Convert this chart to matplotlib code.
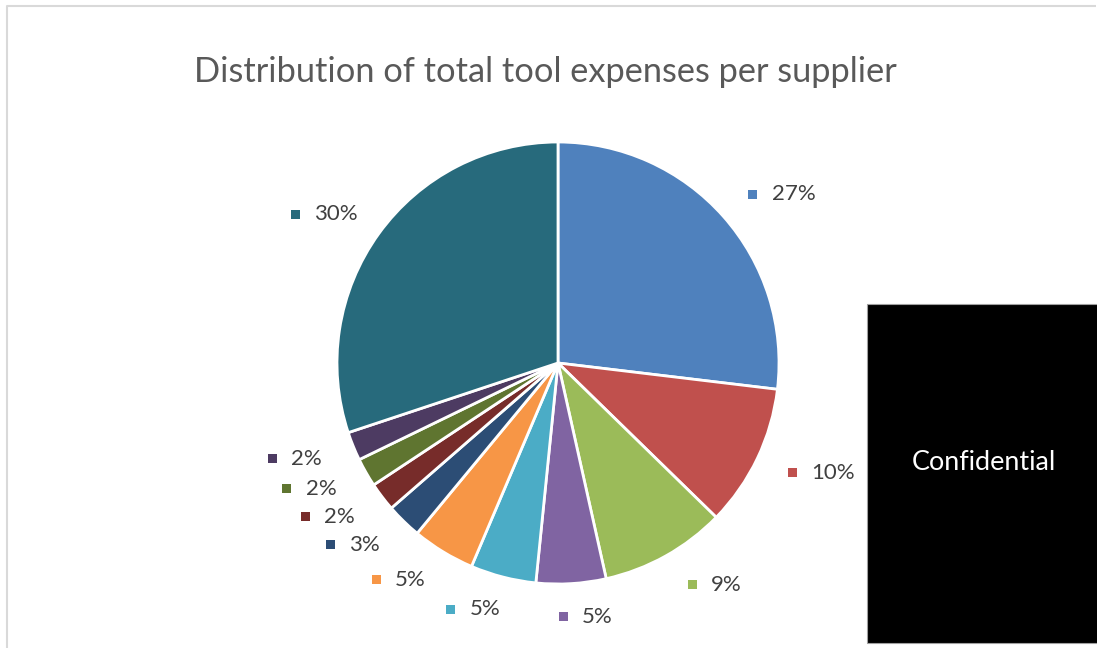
import numpy as np
import matplotlib
matplotlib.use("Agg")
import matplotlib.pyplot as plt
from matplotlib.patches import Rectangle

# ---- data ----
title = "Distribution of total tool expenses per supplier"
shares = [26.9, 10.4, 9.2, 5.1, 4.8, 4.6, 2.6, 2.1, 2.1, 2.1, 30.1]
colors = ["#4F81BD", "#C0504D", "#9BBB59", "#8064A2", "#4BACC6", "#F79646",
          "#2C4D75", "#772C2A", "#5F7530", "#4D3B62", "#276A7C"]
box_text = "Confidential"

# ---- layout ----
W, H = 1097, 648
fig = plt.figure(figsize=(W / 100, H / 100), dpi=100)
ax = fig.add_axes([0, 0, 1, 1])
FONT = "Lato"

cx, cy, R = 558, H - 363, 221
wedges, _ = ax.pie(shares, colors=colors, startangle=90, counterclock=False,
                   center=(cx, cy), radius=R, frame=True,
                   wedgeprops=dict(edgecolor="white", linewidth=2))
ax.set_xlim(0, W)
ax.set_ylim(0, H)
ax.set_aspect("equal")
ax.axis("off")

renderer = fig.canvas.get_renderer()


def fit(t, target):
    w = t.get_window_extent(renderer).width
    t.set_fontsize(t.get_fontsize() * target / w)


# chart border
ax.plot([7, 7, 1096], [0, H - 6, H - 6], color="#D9D9D9", lw=1.5, solid_capstyle="butt")

# title
tt = ax.text(545, H - 82, title, ha="center", va="baseline", color="#595959",
             fontsize=20, family=FONT)
fit(tt, 704)

# labels
d, Hx = 254, 28
ref = ax.text(0, 0, "30%", fontsize=14, family=FONT)
fit(ref, 44)
lab_fs = ref.get_fontsize()
ref.remove()
for w, v, c in zip(wedges, shares, colors):
    a = np.deg2rad((w.theta1 + w.theta2) / 2)
    ca, sa = np.cos(a), np.sin(a)
    bx = cx + d * ca + Hx * np.tanh(4 * ca) + (6 if ca > 0 else 0)
    by = cy + d * sa
    t = ax.text(0, by, f"{v:.0f}%", ha="left", va="center", color="#404040",
                fontsize=lab_fs, family=FONT)
    tw = t.get_window_extent(renderer).width
    bw = 23.5 + tw
    left = bx - bw / 2
    t.set_x(left + 23.5)
    ax.add_patch(Rectangle((left, by - 4.5), 9, 9, color=c, lw=0))

# confidential box
ax.add_patch(Rectangle((867, H - 643), 240, 339, facecolor="black",
                       edgecolor="#A0A0A0", lw=0.8))
ct = ax.text(984, H - 463, box_text, ha="center", va="center", color="white",
             fontsize=18, family=FONT)
fit(ct, 144)

fig.savefig("out.png", dpi=100)
